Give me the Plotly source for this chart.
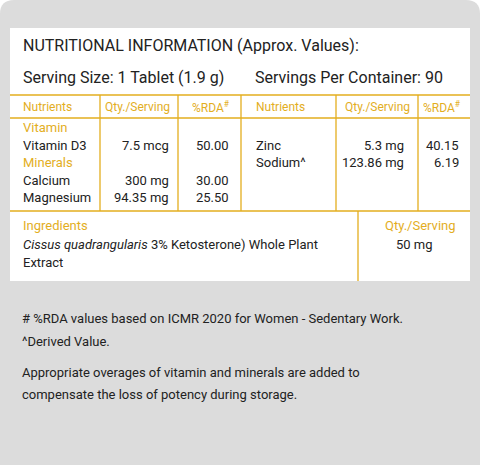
import plotly.graph_objects as go

title = "NUTRITIONAL INFORMATION (Approx. Values):"
serving = "Serving Size: 1 Tablet (1.9 g)"
per_container = "Servings Per Container: 90"
headers = ["Nutrients", "Qty./Serving", "%RDA<sup>#</sup>", "Nutrients", "Qty./Serving", "%RDA<sup>#</sup>"]
left_rows = [("Vitamin", "", "", True), ("Vitamin D3", "7.5 mcg", "50.00", False),
             ("Minerals", "", "", True), ("Calcium", "300 mg", "30.00", False),
             ("Magnesium", "94.35 mg", "25.50", False)]
right_rows = [("Zinc", "5.3 mg", "40.15"), ("Sodium^", "123.86 mg", "6.19")]
ingredient = "<i>Cissus quadrangularis</i> 3% Ketosterone) Whole Plant"
ingredient2 = "Extract"
ingredient_qty = "50 mg"
notes = ["# %RDA values based on ICMR 2020 for Women - Sedentary Work.",
         "^Derived Value.",
         "Appropriate overages of vitamin and minerals are added to",
         "compensate the loss of potency during storage."]

Y = "#E3AE1E"; K = "#222222"; G = "#DCDCDC"
FONT = "Roboto, sans-serif"
fig = go.Figure()
shapes = []
r = 14
shapes.append(dict(type="path", path=f"M {r},0 L {480-r},0 Q 480,0 480,{r} L 480,465 L 0,465 L 0,{r} Q 0,0 {r},0 Z",
                   fillcolor=G, line=dict(width=0), layer="below"))
shapes.append(dict(type="rect", x0=10, x1=470, y0=28, y1=281, fillcolor="white", line=dict(width=0), layer="below"))
def L(x0, y0, x1, y1):
    shapes.append(dict(type="line", x0=x0, y0=y0, x1=x1, y1=y1, line=dict(color=Y, width=1.3)))
for y in [95, 118, 211]:
    L(10, y, 470, y)
for x in [100, 178, 241, 336, 418]:
    L(x, 95, x, 211)
L(358, 211, 358, 281)

ann = []
def T(x, y, t, c=K, s=13, a="left"):
    ann.append(dict(x=x, y=y, text=t, showarrow=False, xanchor=a, yanchor="middle",
                    font=dict(color=c, size=s, family=FONT)))
T(21, 45, title, s=16)
T(21, 77, serving, s=16)
T(253, 77, per_container, s=16)
hx = [(21, "left"), (172, "right"), (232, "right"), (254, "left"), (412, "right"), (463, "right")]
for (x, a), h in zip(hx, headers):
    T(x, 107, h, c=Y, a=a, s=12)
ys = [127, 145, 162, 180, 197]
for y, (n, q, p, sec) in zip(ys, left_rows):
    T(21, y, n, c=Y if sec else K)
    if q: T(171, y, q, a="right")
    if p: T(231, y, p, a="right")
for y, (n, q, p) in zip(ys[1:], right_rows):
    T(254, y, n); T(406, y, q, a="right"); T(461, y, p, a="right")
T(21, 225, "Ingredients", c=Y)
T(21, 244, ingredient)
T(21, 262, ingredient2)
T(458, 225, "Qty./Serving", c=Y, a="right")
T(414, 244, ingredient_qty, a="center")
for y, n in zip([318, 341, 372, 394], notes):
    T(20, y, n)

fig.update_layout(width=480, height=465, margin=dict(l=0, r=0, t=0, b=0),
                  paper_bgcolor="white", plot_bgcolor="white", shapes=shapes, annotations=ann,
                  xaxis=dict(range=[0, 480], visible=False, fixedrange=True),
                  yaxis=dict(range=[465, 0], visible=False, fixedrange=True), showlegend=False)
fig.write_html("out.html", config={"displayModeBar": False},
               post_script="document.body.style.margin='0';document.body.style.overflow='hidden';")
